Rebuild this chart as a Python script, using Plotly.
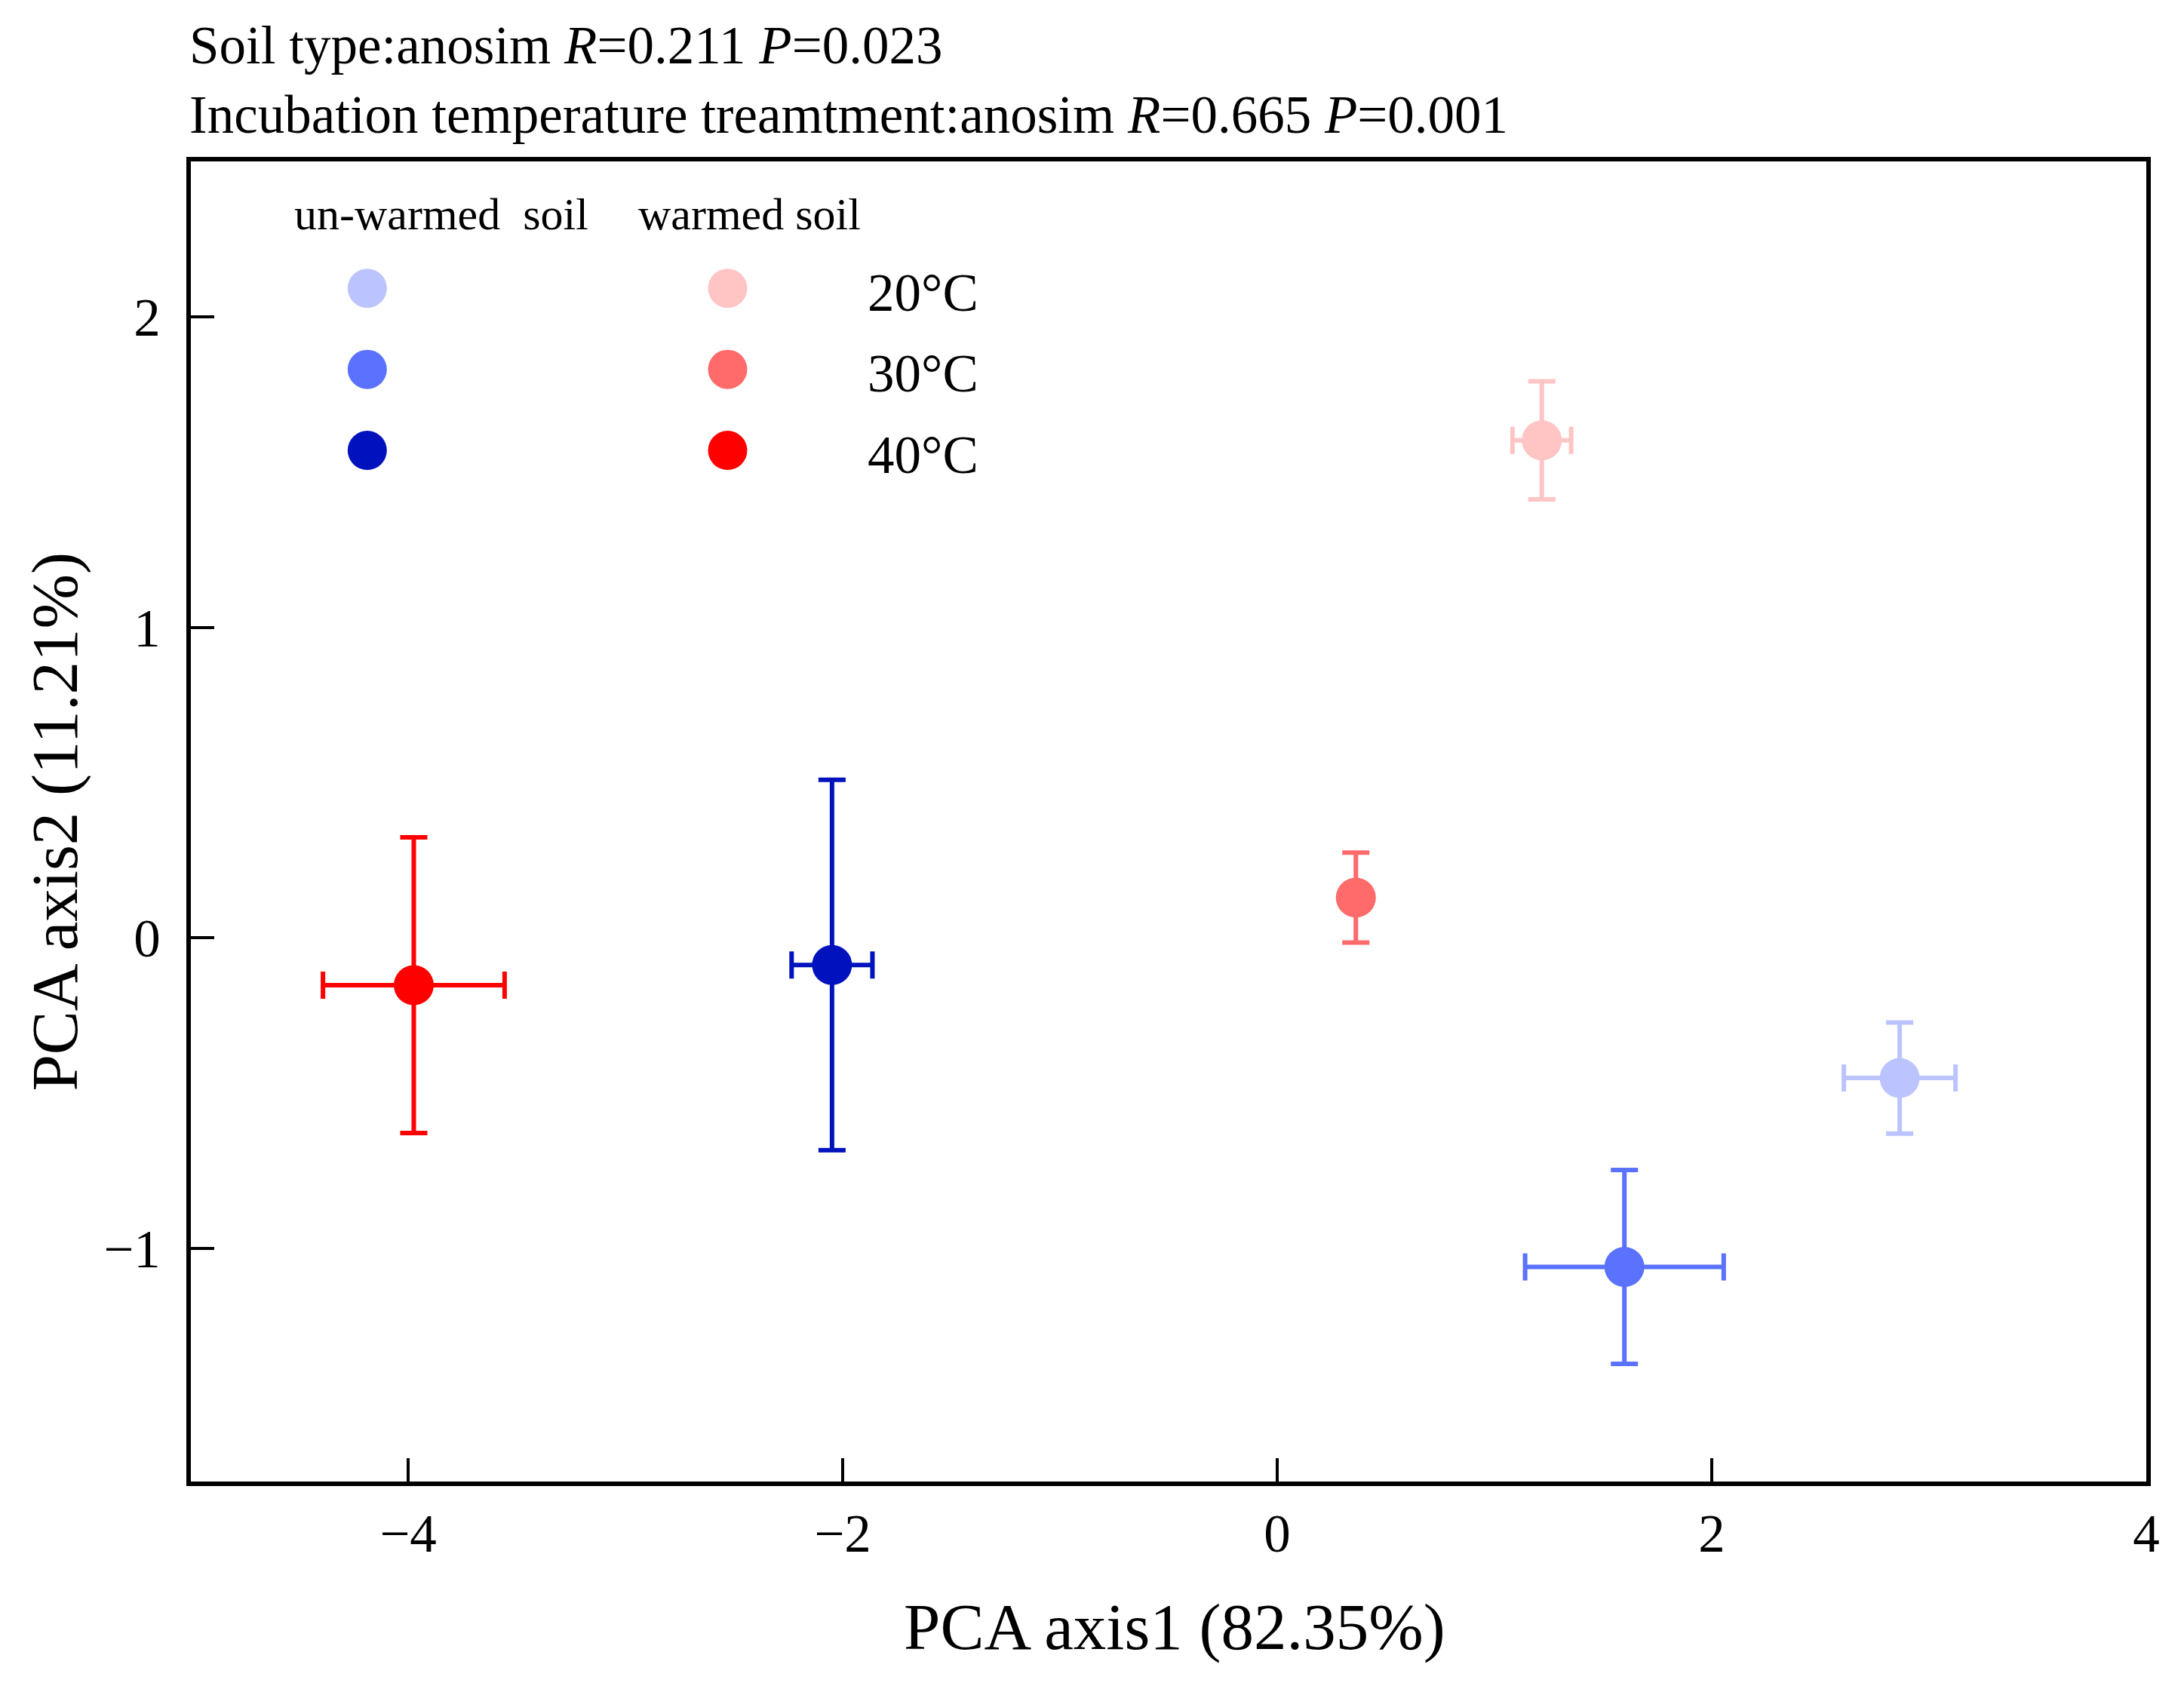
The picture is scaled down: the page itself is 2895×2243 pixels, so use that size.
import plotly.graph_objects as go

# PCA scores (mean +/- error)
temps = ['20°C', '30°C', '40°C']

unwarmed_x = [2.865, 1.598, -2.049]
unwarmed_y = [-0.451, -1.059, -0.087]
unwarmed_xerr = [0.257, 0.457, 0.186]
unwarmed_yerr = [0.179, 0.312, 0.596]

warmed_x = [1.218, 0.362, -3.974]
warmed_y = [1.602, 0.130, -0.152]
warmed_xerr = [0.135, 0.0, 0.418]
warmed_yerr = [0.190, 0.145, 0.476]

blue_colors = ['#BBC4FF', '#5A72FF', '#0012BD']
red_colors = ['#FFC4C4', '#FF6A6A', '#FF0000']

x_ticks = [-4, -2, 0, 2, 4]
y_ticks = [-1, 0, 1, 2]

soil_R, soil_P = '0.211', '0.023'
temp_R, temp_P = '0.665', '0.001'

FONT = 'Liberation Serif'

fig = go.Figure()

groups = [
    ('un-warmed', unwarmed_x, unwarmed_y, unwarmed_xerr, unwarmed_yerr, blue_colors),
    ('warmed', warmed_x, warmed_y, warmed_xerr, warmed_yerr, red_colors),
]
for name, xs, ys, xe, ye, cols in groups:
    for i in range(len(temps)):
        fig.add_trace(go.Scatter(
            x=[xs[i]], y=[ys[i]],
            mode='markers',
            name=f'{name} {temps[i]}',
            marker=dict(size=53, color=cols[i], line=dict(width=0)),
            error_x=dict(type='data', array=[xe[i]], color=cols[i],
                         thickness=6, width=18, visible=xe[i] > 0),
            error_y=dict(type='data', array=[ye[i]], color=cols[i],
                         thickness=6, width=18),
            showlegend=False,
        ))

# hand-made legend (two columns of dots, one column of labels)
row_y0, row_step = 0.9039, 0.0614
shapes = []
annotations = []
for i in range(len(temps)):
    yy = row_y0 - i * row_step
    for xx, col in [(0.0902, blue_colors[i]), (0.2745, red_colors[i])]:
        shapes.append(dict(
            type='circle', xref='paper', yref='paper',
            xsizemode='pixel', ysizemode='pixel',
            xanchor=xx, yanchor=yy, x0=-26, x1=26, y0=-26, y1=26,
            fillcolor=col, line=dict(width=0),
        ))
    annotations.append(dict(
        text=temps[i], xref='paper', yref='paper',
        x=0.3454, y=yy - 0.0032, xanchor='left', yanchor='middle',
        showarrow=False, font=dict(family=FONT, size=71, color='black'),
    ))

annotations += [
    dict(text='un-warmed&nbsp;&nbsp;soil', xref='paper', yref='paper',
         x=0.0520, y=0.960, xanchor='left', yanchor='middle', showarrow=False,
         font=dict(family=FONT, size=60, color='black')),
    dict(text='warmed soil', xref='paper', yref='paper',
         x=0.2282, y=0.960, xanchor='left', yanchor='middle', showarrow=False,
         font=dict(family=FONT, size=60, color='black')),
    dict(text=f'Soil type:anosim <i>R</i>={soil_R} <i>P</i>={soil_P}',
         xref='paper', yref='paper', x=0, y=1.0879, xshift=-4,
         xanchor='left', yanchor='middle', showarrow=False,
         font=dict(family=FONT, size=71, color='black')),
    dict(text=f'Incubation temperature treamtment:anosim <i>R</i>={temp_R} <i>P</i>={temp_P}',
         xref='paper', yref='paper', x=0, y=1.0355, xshift=-4,
         xanchor='left', yanchor='middle', showarrow=False,
         font=dict(family=FONT, size=71, color='black')),
    dict(text='PCA axis1 (82.35%)', xref='paper', yref='paper',
         x=0.503, y=-0.1100, xanchor='center', yanchor='middle', showarrow=False,
         font=dict(family=FONT, size=87, color='black')),
    dict(text='PCA axis2 (11.21%)', xref='paper', yref='paper',
         x=-0.070, y=0.5, textangle=-90, xanchor='center', yanchor='middle',
         showarrow=False, font=dict(family=FONT, size=87, color='black')),
]

axis_style = dict(
    showgrid=False, zeroline=False,
    showline=True, linecolor='black', linewidth=6, mirror=True,
    ticks='inside', ticklen=31, tickwidth=4, tickcolor='black',
    tickfont=dict(family=FONT, size=71, color='black'),
)

# page body has an 8px margin, so the figure is shrunk by that amount
fig.update_layout(
    width=2889, height=2237,
    margin=dict(l=245, r=52, t=206, b=281),
    paper_bgcolor='white', plot_bgcolor='white',
    shapes=shapes, annotations=annotations,
    xaxis=dict(range=[-5, 4], tickvals=x_ticks, ticklabelstandoff=2, **axis_style),
    yaxis=dict(range=[-1.75, 2.5], tickvals=y_ticks, ticklabelstandoff=20, **axis_style),
)

fig.write_html('out.html')
